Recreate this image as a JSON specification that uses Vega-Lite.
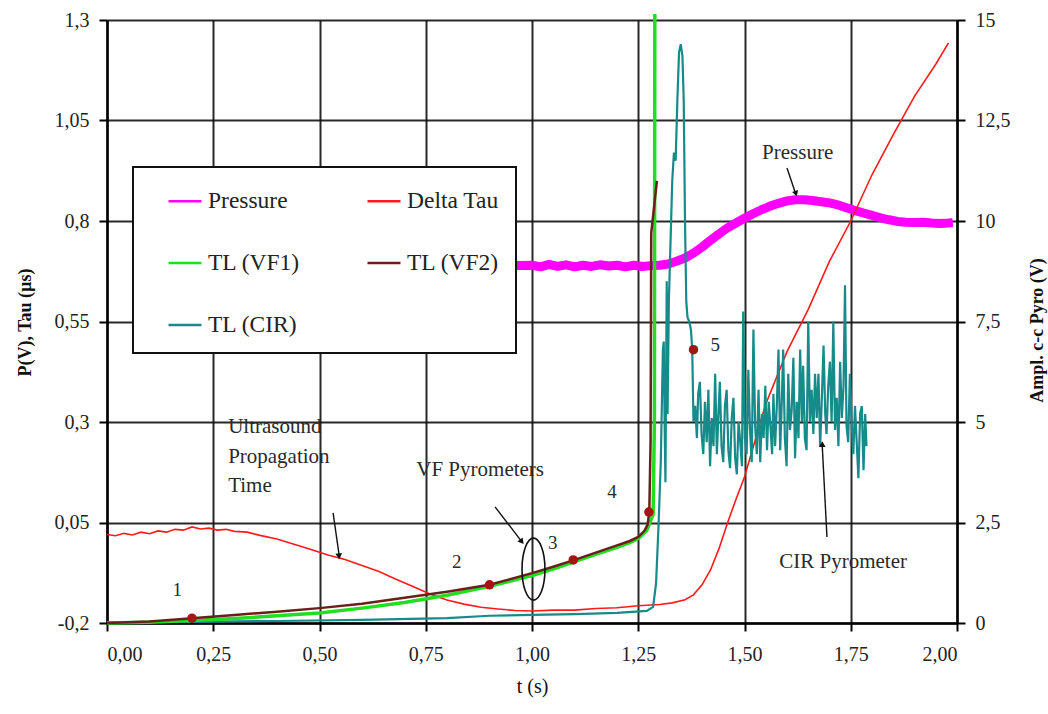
{
  "$schema": "https://vega.github.io/schema/vega-lite/v6.json",
  "width": 850,
  "height": 603,
  "autosize": {"type": "none"},
  "padding": {"left": 107, "top": 20, "right": 91, "bottom": 91},
  "background": "white",
  "config": {
    "view": {"stroke": null},
    "font": "Liberation Serif",
    "axis": {
      "labelFont": "Liberation Serif", "labelFontSize": 20, "labelColor": "#222",
      "titleFont": "Liberation Serif", "titleColor": "#111",
      "domainColor": "#000", "domainWidth": 2.5,
      "tickColor": "#000", "tickWidth": 2, "tickSize": 8,
      "gridColor": "#111", "gridWidth": 2, "gridOpacity": 0.9
    },
    "legend": {
      "orient": "none", "legendX": 26, "legendY": 147, "columns": 2,
      "symbolType": "stroke", "symbolSize": 1089, "symbolStrokeWidth": 2.5,
      "labelFont": "Liberation Serif", "labelFontSize": 23.5, "labelColor": "#222",
      "labelOffset": 5, "padding": 16, "symbolOffset": 18,
      "rowPadding": 32, "columnPadding": 47,
      "fillColor": "white", "strokeColor": "#111", "strokeWidth": 2,
      "zindex": 1
    }
  },
  "datasets": {
    "press": [
      {"t":0.5,"v":0.688},{"t":0.6,"v":0.69},{"t":0.7,"v":0.689},{"t":0.8,"v":0.69},{"t":0.9,"v":0.688},{"t":1.0,"v":0.69},
      {"t":1.02,"v":0.686},{"t":1.04,"v":0.692},{"t":1.06,"v":0.687},{"t":1.08,"v":0.691},{"t":1.1,"v":0.686},{"t":1.12,"v":0.69},{"t":1.14,"v":0.687},{"t":1.16,"v":0.691},{"t":1.18,"v":0.688},{"t":1.2,"v":0.69},{"t":1.22,"v":0.686},{"t":1.24,"v":0.69},{"t":1.26,"v":0.687},{"t":1.28,"v":0.689},{"t":1.3,"v":0.69},
      {"t":1.32,"v":0.693},{"t":1.34,"v":0.7},{"t":1.36,"v":0.708},{"t":1.38,"v":0.72},{"t":1.4,"v":0.735},{"t":1.42,"v":0.752},{"t":1.44,"v":0.768},{"t":1.46,"v":0.783},{"t":1.48,"v":0.795},{"t":1.5,"v":0.807},{"t":1.52,"v":0.818},{"t":1.54,"v":0.828},{"t":1.56,"v":0.837},{"t":1.58,"v":0.844},{"t":1.6,"v":0.85},{"t":1.62,"v":0.853},{"t":1.64,"v":0.853},{"t":1.66,"v":0.851},{"t":1.68,"v":0.848},{"t":1.7,"v":0.845},{"t":1.72,"v":0.84},{"t":1.74,"v":0.833},{"t":1.76,"v":0.826},{"t":1.78,"v":0.82},{"t":1.8,"v":0.814},{"t":1.82,"v":0.808},{"t":1.84,"v":0.803},{"t":1.86,"v":0.799},{"t":1.88,"v":0.797},{"t":1.9,"v":0.796},{"t":1.92,"v":0.797},{"t":1.94,"v":0.795},{"t":1.96,"v":0.794},{"t":1.98,"v":0.795},{"t":1.99,"v":0.796}
    ],
    "dtau": [
      {"t":0,"v":0.02},{"t":0.02,"v":0.017},{"t":0.04,"v":0.023},{"t":0.06,"v":0.019},{"t":0.08,"v":0.026},{"t":0.1,"v":0.022},{"t":0.12,"v":0.029},{"t":0.14,"v":0.026},{"t":0.16,"v":0.033},{"t":0.18,"v":0.031},{"t":0.2,"v":0.039},{"t":0.22,"v":0.034},{"t":0.24,"v":0.036},{"t":0.26,"v":0.031},{"t":0.28,"v":0.033},{"t":0.3,"v":0.028},{"t":0.33,"v":0.026},{"t":0.36,"v":0.018},{"t":0.4,"v":0.009},{"t":0.44,"v":-0.004},{"t":0.48,"v":-0.017},{"t":0.52,"v":-0.031},{"t":0.56,"v":-0.042},{"t":0.6,"v":-0.057},{"t":0.64,"v":-0.072},{"t":0.68,"v":-0.091},{"t":0.72,"v":-0.109},{"t":0.76,"v":-0.128},{"t":0.8,"v":-0.143},{"t":0.84,"v":-0.153},{"t":0.88,"v":-0.161},{"t":0.92,"v":-0.165},{"t":0.96,"v":-0.169},{"t":1.0,"v":-0.17},{"t":1.05,"v":-0.168},{"t":1.1,"v":-0.168},{"t":1.15,"v":-0.164},{"t":1.2,"v":-0.162},{"t":1.25,"v":-0.157},{"t":1.3,"v":-0.154},{"t":1.33,"v":-0.15},{"t":1.36,"v":-0.142},{"t":1.38,"v":-0.13},{"t":1.4,"v":-0.105},{"t":1.42,"v":-0.068},{"t":1.44,"v":-0.015},{"t":1.46,"v":0.049},{"t":1.48,"v":0.108},{"t":1.5,"v":0.163},{"t":1.55,"v":0.345},{"t":1.6,"v":0.475},{"t":1.65,"v":0.58},{"t":1.7,"v":0.7},{"t":1.75,"v":0.8},{"t":1.8,"v":0.915},{"t":1.85,"v":1.015},{"t":1.9,"v":1.11},{"t":1.95,"v":1.19},{"t":1.98,"v":1.243}
    ],
    "vf1": [
      {"t":0,"r":0},{"t":0.1,"r":0.02},{"t":0.2,"r":0.06},{"t":0.3,"r":0.11},{"t":0.4,"r":0.18},{"t":0.5,"r":0.25},{"t":0.6,"r":0.37},{"t":0.7,"r":0.51},{"t":0.8,"r":0.69},{"t":0.9,"r":0.91},{"t":1.0,"r":1.18},{"t":1.05,"r":1.34},{"t":1.1,"r":1.53},{"t":1.15,"r":1.71},{"t":1.2,"r":1.88},{"t":1.23,"r":2.0},{"t":1.25,"r":2.1},{"t":1.27,"r":2.3},{"t":1.285,"r":2.7},{"t":1.288,"r":5.0},{"t":1.289,"r":15.15}
    ],
    "vf2": [
      {"t":0,"r":0},{"t":0.1,"r":0.04},{"t":0.2,"r":0.12},{"t":0.3,"r":0.2},{"t":0.4,"r":0.28},{"t":0.5,"r":0.37},{"t":0.6,"r":0.48},{"t":0.7,"r":0.63},{"t":0.8,"r":0.78},{"t":0.9,"r":0.95},{"t":1.0,"r":1.24},{"t":1.05,"r":1.4},{"t":1.1,"r":1.57},{"t":1.15,"r":1.75},{"t":1.2,"r":1.93},{"t":1.23,"r":2.04},{"t":1.25,"r":2.14},{"t":1.265,"r":2.3},{"t":1.272,"r":2.45},{"t":1.276,"r":2.76},{"t":1.279,"r":4.5},{"t":1.2805,"r":9.7},{"t":1.294,"r":11.0}
    ],
    "cir": [
      {"t":0,"r":0.02},{"t":0.2,"r":0.03},{"t":0.4,"r":0.05},{"t":0.6,"r":0.08},{"t":0.8,"r":0.12},{"t":0.9,"r":0.18},{"t":1.0,"r":0.2},{"t":1.1,"r":0.22},{"t":1.2,"r":0.25},{"t":1.27,"r":0.3},{"t":1.285,"r":0.4},{"t":1.292,"r":1.0},{"t":1.298,"r":2.5},{"t":1.303,"r":4.0},{"t":1.306,"r":5.7},{"t":1.308,"r":6.8},{"t":1.31,"r":7.0},{"t":1.312,"r":5.0},{"t":1.314,"r":3.5},{"t":1.317,"r":8.5},{"t":1.319,"r":5.2},{"t":1.322,"r":8.0},{"t":1.326,"r":9.5},{"t":1.33,"r":11.0},{"t":1.334,"r":11.7},{"t":1.338,"r":11.5},{"t":1.342,"r":13.0},{"t":1.346,"r":14.2},{"t":1.35,"r":14.4},{"t":1.354,"r":14.1},{"t":1.357,"r":13.0},{"t":1.36,"r":10.0},{"t":1.363,"r":8.0},{"t":1.366,"r":7.6},{"t":1.37,"r":7.5},{"t":1.374,"r":7.3},{"t":1.377,"r":6.8},{"t":1.38,"r":5.0},
      {"t":1.384,"r":5.4},{"t":1.388,"r":4.6},{"t":1.391,"r":5.7},{"t":1.395,"r":6.0},{"t":1.399,"r":4.7},{"t":1.403,"r":4.2},{"t":1.407,"r":5.5},{"t":1.411,"r":4.5},{"t":1.415,"r":5.8},{"t":1.419,"r":3.9},{"t":1.423,"r":5.1},{"t":1.427,"r":4.4},{"t":1.431,"r":6.2},{"t":1.435,"r":4.2},{"t":1.439,"r":5.3},{"t":1.442,"r":6.0},{"t":1.446,"r":4.4},{"t":1.45,"r":4.0},{"t":1.454,"r":5.4},{"t":1.458,"r":5.8},{"t":1.462,"r":4.3},{"t":1.466,"r":3.85},{"t":1.47,"r":5.1},{"t":1.474,"r":5.6},{"t":1.478,"r":4.1},{"t":1.482,"r":3.7},{"t":1.486,"r":5.0},{"t":1.49,"r":4.5},{"t":1.494,"r":3.9},{"t":1.497,"r":7.75},{"t":1.501,"r":4.6},{"t":1.505,"r":4.2},{"t":1.509,"r":6.3},{"t":1.513,"r":4.8},{"t":1.517,"r":4.0},{"t":1.521,"r":7.3},{"t":1.525,"r":4.9},{"t":1.529,"r":4.2},{"t":1.533,"r":5.8},{"t":1.537,"r":4.0},{"t":1.541,"r":5.2},{"t":1.545,"r":4.6},{"t":1.549,"r":5.9},{"t":1.553,"r":4.3},{"t":1.557,"r":5.5},{"t":1.561,"r":4.9},{"t":1.565,"r":4.2},{"t":1.568,"r":5.7},{"t":1.572,"r":4.4},{"t":1.576,"r":5.4},{"t":1.58,"r":6.8},{"t":1.584,"r":4.3},{"t":1.588,"r":5.6},{"t":1.591,"r":6.8},{"t":1.595,"r":4.6},{"t":1.599,"r":3.9},{"t":1.603,"r":6.2},{"t":1.607,"r":4.8},{"t":1.611,"r":5.3},{"t":1.615,"r":6.6},{"t":1.619,"r":4.1},{"t":1.623,"r":5.5},{"t":1.627,"r":4.6},{"t":1.631,"r":6.8},{"t":1.635,"r":5.0},{"t":1.638,"r":6.4},{"t":1.642,"r":4.6},{"t":1.646,"r":4.3},{"t":1.65,"r":7.5},{"t":1.654,"r":5.0},{"t":1.658,"r":5.8},{"t":1.662,"r":4.7},{"t":1.666,"r":6.2},{"t":1.67,"r":5.1},{"t":1.674,"r":6.2},{"t":1.678,"r":4.4},{"t":1.682,"r":5.6},{"t":1.686,"r":6.9},{"t":1.69,"r":5.2},{"t":1.693,"r":4.7},{"t":1.697,"r":5.9},{"t":1.701,"r":6.5},{"t":1.705,"r":5.0},{"t":1.709,"r":7.5},{"t":1.713,"r":4.8},{"t":1.717,"r":5.6},{"t":1.721,"r":4.4},{"t":1.725,"r":6.5},{"t":1.729,"r":5.1},{"t":1.733,"r":5.9},{"t":1.7365,"r":8.4},{"t":1.74,"r":4.9},{"t":1.744,"r":4.5},{"t":1.748,"r":6.2},{"t":1.752,"r":5.0},{"t":1.756,"r":4.2},{"t":1.76,"r":5.4},{"t":1.764,"r":4.5},{"t":1.768,"r":3.6},{"t":1.772,"r":5.2},{"t":1.776,"r":5.4},{"t":1.78,"r":3.8},{"t":1.784,"r":5.2},{"t":1.787,"r":4.4}
    ],
    "dots": [{"t":0.2,"r":0.12},{"t":0.9,"r":0.95},{"t":1.097,"r":1.57},{"t":1.275,"r":2.76},{"t":1.38,"r":6.8}],
    "nums": [{"t":0.165,"r":0.82,"txt":"1"},{"t":0.823,"r":1.52,"txt":"2"},{"t":1.049,"r":1.99,"txt":"3"},{"t":1.188,"r":3.26,"txt":"4"},{"t":1.431,"r":6.92,"txt":"5"}],
    "notesL": [{"t":0.285,"r":4.88,"txt":"Ultrasound"},{"t":0.285,"r":4.12,"txt":"Propagation"},{"t":0.285,"r":3.42,"txt":"Time"}],
    "notesC": [{"t":0.878,"r":3.81,"txt":"VF Pyrometers"},{"t":1.625,"r":11.69,"txt":"Pressure"},{"t":1.732,"r":1.52,"txt":"CIR Pyrometer"}],
    "arrows": [{"t":0.532,"r":2.74,"t2":0.546,"r2":1.7},{"t":0.913,"r":2.89,"t2":0.974,"r2":2.05},{"t":1.6,"r":11.32,"t2":1.619,"r2":10.72},{"t":1.694,"r":2.14,"t2":1.683,"r2":4.4}]
  },
  "encoding": {
    "x": {
      "field": "t", "type": "quantitative",
      "scale": {"domain": [0, 2], "nice": false, "zero": false},
      "axis": {
        "values": [0, 0.25, 0.5, 0.75, 1, 1.25, 1.5, 1.75, 2],
        "labelExpr": "replace(format(datum.value, '.2f'), '.', ',')",
        "title": "t (s)", "titleFontSize": 20, "titleFontWeight": "normal",
        "labelPadding": 13, "titlePadding": 12, "grid": true
      }
    }
  },
  "resolve": {"scale": {"y": "independent"}},
  "layer": [
    {
      "encoding": {
        "y": {
          "field": "v", "type": "quantitative",
          "scale": {"domain": [-0.2, 1.3], "nice": false, "zero": false},
          "axis": {
            "values": [-0.2, 0.05, 0.3, 0.55, 0.8, 1.05, 1.3],
            "labelExpr": "replace(replace(format(datum.value, '.2~f'), '.', ','), '\u2212', '-')",
            "title": "P(V), Tau (µs)", "titleFontSize": 18, "titleFontWeight": "bold",
            "titleAngle": 270, "titleX": -82, "titleY": 302, "titleAlign": "center", "titleBaseline": "middle",
            "labelPadding": 10, "grid": true
          }
        }
      },
      "layer": [
        {
          "data": {"name": "press"},
          "mark": {"type": "line", "strokeWidth": 9, "strokeJoin": "round"},
          "encoding": {"color": {"datum": "Pressure", "type": "nominal", "title": null,
            "scale": {"domain": ["Pressure", "TL (VF1)", "TL (CIR)", "Delta Tau", "TL (VF2)"], "range": ["#ff00ff", "#22dd22", "#178a8a", "#ff1a1a", "#6b1f1a"]}}}
        },
        {
          "data": {"name": "dtau"},
          "mark": {"type": "line", "strokeWidth": 1.6},
          "encoding": {"color": {"datum": "Delta Tau", "type": "nominal", "title": null,
            "scale": {"domain": ["Pressure", "TL (VF1)", "TL (CIR)", "Delta Tau", "TL (VF2)"], "range": ["#ff00ff", "#22dd22", "#178a8a", "#ff1a1a", "#6b1f1a"]}}}
        }
      ]
    },
    {
      "encoding": {
        "y": {
          "field": "r", "type": "quantitative",
          "scale": {"domain": [0, 15], "nice": false, "zero": false},
          "axis": {
            "orient": "right",
            "values": [0, 2.5, 5, 7.5, 10, 12.5, 15],
            "labelExpr": "replace(format(datum.value, '.1~f'), '.', ',')",
            "title": "Ampl. c-c Pyro (V)", "titleFontSize": 18, "titleFontWeight": "bold",
            "titleAngle": 270, "titleX": 80, "titleY": 310, "titleAlign": "center", "titleBaseline": "middle",
            "labelPadding": 10, "grid": false
          }
        }
      },
      "layer": [
        {
          "data": {"name": "cir"},
          "mark": {"type": "line", "strokeWidth": 2.2},
          "encoding": {"color": {"datum": "TL (CIR)", "type": "nominal", "title": null,
            "scale": {"domain": ["Pressure", "TL (VF1)", "TL (CIR)", "Delta Tau", "TL (VF2)"], "range": ["#ff00ff", "#22dd22", "#178a8a", "#ff1a1a", "#6b1f1a"]}}}
        },
        {
          "data": {"name": "vf1"},
          "mark": {"type": "line", "strokeWidth": 3.5},
          "encoding": {"color": {"datum": "TL (VF1)", "type": "nominal", "title": null,
            "scale": {"domain": ["Pressure", "TL (VF1)", "TL (CIR)", "Delta Tau", "TL (VF2)"], "range": ["#ff00ff", "#22dd22", "#178a8a", "#ff1a1a", "#6b1f1a"]}}}
        },
        {
          "data": {"name": "vf2"},
          "mark": {"type": "line", "strokeWidth": 2.5},
          "encoding": {"color": {"datum": "TL (VF2)", "type": "nominal", "title": null,
            "scale": {"domain": ["Pressure", "TL (VF1)", "TL (CIR)", "Delta Tau", "TL (VF2)"], "range": ["#ff00ff", "#22dd22", "#178a8a", "#ff1a1a", "#6b1f1a"]}}}
        },
        {
          "data": {"name": "dots"},
          "mark": {"type": "point", "filled": true, "color": "#a31515", "size": 90, "opacity": 1}
        },
        {
          "data": {"values": [{"t": 1.0035, "r": 1.34}]},
          "mark": {"type": "point", "shape": "M0,-1A0.37,1,0,1,1,0,1A0.37,1,0,1,1,0,-1Z", "filled": false, "stroke": "#111", "strokeWidth": 1.6, "size": 3844, "opacity": 1}
        },
        {
          "data": {"name": "arrows"},
          "mark": {"type": "rule", "color": "#111", "strokeWidth": 1.4},
          "encoding": {"x2": {"field": "t2"}, "y2": {"field": "r2"}}
        },
        {
          "data": {"values": [{"t": 0.546, "r": 1.66}]},
          "mark": {"type": "point", "shape": "triangle-down", "filled": true, "color": "#111", "size": 45, "angle": 352, "opacity": 1}
        },
        {
          "data": {"values": [{"t": 0.976, "r": 2.02}]},
          "mark": {"type": "point", "shape": "triangle-down", "filled": true, "color": "#111", "size": 45, "angle": 322, "opacity": 1}
        },
        {
          "data": {"values": [{"t": 1.621, "r": 10.68}]},
          "mark": {"type": "point", "shape": "triangle-down", "filled": true, "color": "#111", "size": 40, "angle": 342, "opacity": 1}
        },
        {
          "data": {"values": [{"t": 1.683, "r": 4.45}]},
          "mark": {"type": "point", "shape": "triangle-up", "filled": true, "color": "#111", "size": 45, "opacity": 1}
        },
        {
          "data": {"name": "notesL"},
          "mark": {"type": "text", "align": "left", "baseline": "middle", "font": "Liberation Serif", "fontSize": 21, "color": "#2a2a2a"},
          "encoding": {"text": {"field": "txt"}}
        },
        {
          "data": {"name": "notesC"},
          "mark": {"type": "text", "align": "center", "baseline": "middle", "font": "Liberation Serif", "fontSize": 21, "color": "#2a2a2a"},
          "encoding": {"text": {"field": "txt"}}
        },
        {
          "data": {"name": "nums"},
          "mark": {"type": "text", "align": "center", "baseline": "middle", "font": "Liberation Serif", "fontSize": 19, "color": "#2a2a2a"},
          "encoding": {"text": {"field": "txt"}}
        }
      ]
    }
  ]
}
